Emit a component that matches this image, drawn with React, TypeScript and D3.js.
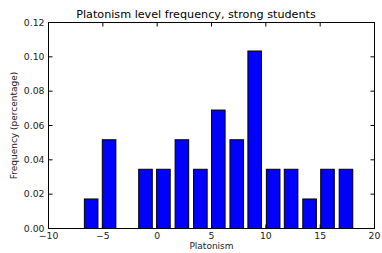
import React from "react";
import * as d3 from "d3";

const binStarts = [-6.7, -5.05, -3.35, -1.7, -0.05, 1.65, 3.35, 5.0, 6.7, 8.35, 10.05, 11.7, 13.4, 15.05, 16.75];
const frequencies = [0.0172, 0.0517, 0, 0.0345, 0.0345, 0.0517, 0.0345, 0.069, 0.0517, 0.1034, 0.0345, 0.0345, 0.0172, 0.0345, 0.0345];
const xTicks = [-10, -5, 0, 5, 10, 15, 20];
const yTicks = [0, 0.02, 0.04, 0.06, 0.08, 0.1, 0.12];
const barWidth = 1.25;

const W = 382, H = 253;
const L = 48.5, R = 374.5, T = 22.5, B = 228.5;
const FONT = "DejaVu Sans, sans-serif";

export default function App() {
  const x = d3.scaleLinear().domain([-10, 20]).range([L, R]);
  const y = d3.scaleLinear().domain([0, 0.12]).range([B, T]);
  const tl = 4;
  return (
    <svg width={W} height={H} style={{ position: "absolute", left: 0, top: 0 }} fontFamily={FONT}>
      <rect x={0} y={0} width={W} height={H} fill="#fff" />
      {binStarts.map((s, i) =>
        frequencies[i] > 0 ? (
          <rect
            key={i}
            x={x(s)}
            y={y(frequencies[i])}
            width={x(s + barWidth) - x(s)}
            height={y(0) - y(frequencies[i])}
            fill="#0000ff"
            stroke="#000"
            strokeWidth={1}
          />
        ) : null
      )}
      <rect x={L} y={T} width={R - L} height={B - T} fill="none" stroke="#000" strokeWidth={1} />
      {xTicks.map((t) => (
        <g key={"x" + t}>
          <line x1={x(t)} x2={x(t)} y1={B} y2={B - tl} stroke="#000" />
          <line x1={x(t)} x2={x(t)} y1={T} y2={T + tl} stroke="#000" />
          <text x={x(t)} y={239} fontSize={9.3} textAnchor="middle" fill="#222">
            {t < 0 ? "\u2212" + Math.abs(t) : String(t)}
          </text>
        </g>
      ))}
      {yTicks.map((t) => (
        <g key={"y" + t}>
          <line x1={L} x2={L + tl} y1={y(t)} y2={y(t)} stroke="#000" />
          <line x1={R} x2={R - tl} y1={y(t)} y2={y(t)} stroke="#000" />
          <text x={44.5} y={y(t)} dy="0.35em" fontSize={9.3} textAnchor="end" fill="#222">
            {t.toFixed(2)}
          </text>
        </g>
      ))}
      <text x={196} y={18} fontSize={11.2} textAnchor="middle" fill="#000">
        Platonism level frequency, strong students
      </text>
      <text x={(L + R) / 2} y={249} fontSize={9} textAnchor="middle" fill="#222">
        Platonism
      </text>
      <text
        transform={`translate(17,${(T + B) / 2}) rotate(-90)`}
        fontSize={9}
        textAnchor="middle"
        fill="#222"
      >
        Frequency (percentage)
      </text>
    </svg>
  );
}
